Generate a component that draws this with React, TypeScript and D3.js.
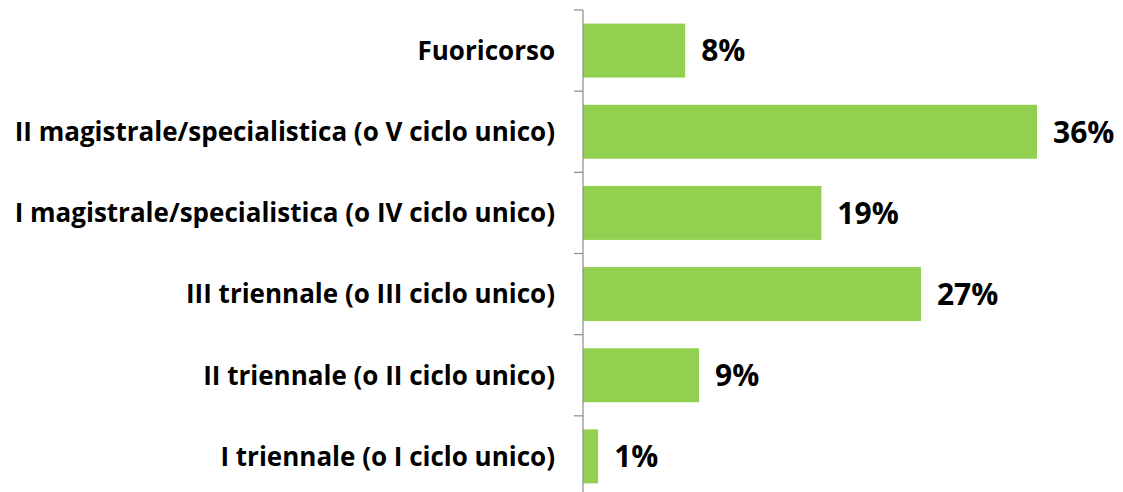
import { useEffect, useRef } from 'react';
import * as d3 from 'd3';

const categories = [
  'Fuoricorso',
  'II magistrale/specialistica (o V ciclo unico)',
  'I magistrale/specialistica (o IV ciclo unico)',
  'III triennale (o III ciclo unico)',
  'II triennale (o II ciclo unico)',
  'I triennale (o I ciclo unico)'
];
const values = [8.1, 36.0, 18.9, 26.8, 9.2, 1.2];
const valueLabels = ['8%', '36%', '19%', '27%', '9%', '1%'];

export default function App() {
  const ref = useRef<SVGSVGElement>(null);

  useEffect(() => {
    const W = 1123;
    const H = 492;
    const axisX = 583;
    const svg = d3.select(ref.current);
    svg.selectAll('*').remove();

    const x = d3.scaleLinear().domain([0, 36]).range([axisX, 1037]);
    const y = d3.scaleBand<string>()
      .domain(categories)
      .range([10, 497])
      .paddingInner(0.335)
      .paddingOuter(0.1675);

    // bars
    svg.append('g')
      .selectAll('rect')
      .data(categories)
      .enter().append('rect')
      .attr('x', x(0))
      .attr('y', d => y(d)!)
      .attr('width', (d, i) => x(values[i]) - x(0))
      .attr('height', y.bandwidth())
      .attr('fill', '#92D050');

    // axis line + ticks between categories
    const step = y.step();
    svg.append('line')
      .attr('x1', axisX).attr('x2', axisX)
      .attr('y1', 10).attr('y2', H)
      .attr('stroke', '#8c8c8c').attr('stroke-width', 1.2);
    svg.append('g')
      .selectAll('line')
      .data(d3.range(categories.length))
      .enter().append('line')
      .attr('x1', axisX - 9).attr('x2', axisX)
      .attr('y1', i => 10 + i * step).attr('y2', i => 10 + i * step)
      .attr('stroke', '#8c8c8c').attr('stroke-width', 1.2);

    const font = '"Open Sans", Lato, sans-serif';

    // category labels
    svg.append('g')
      .selectAll('text')
      .data(categories)
      .enter().append('text')
      .attr('x', axisX - 28)
      .attr('y', d => y(d)! + y.bandwidth() / 2)
      .attr('dy', '0.36em')
      .attr('text-anchor', 'end')
      .attr('font-family', font)
      .attr('font-weight', 'bold')
      .attr('font-size', 26)
      .attr('fill', '#000')
      .text(d => d);

    // value labels
    svg.append('g')
      .selectAll('text')
      .data(categories)
      .enter().append('text')
      .attr('x', (d, i) => x(values[i]) + 16)
      .attr('y', d => y(d)! + y.bandwidth() / 2)
      .attr('dy', '0.36em')
      .attr('font-family', font)
      .attr('font-weight', 'bold')
      .attr('font-size', 30)
      .attr('fill', '#000')
      .text((d, i) => valueLabels[i]);

    svg.attr('width', W).attr('height', H);
  }, []);

  return (
    <svg
      ref={ref}
      width={1123}
      height={492}
      style={{ position: 'absolute', left: 0, top: 0, background: '#fff' }}
    />
  );
}
